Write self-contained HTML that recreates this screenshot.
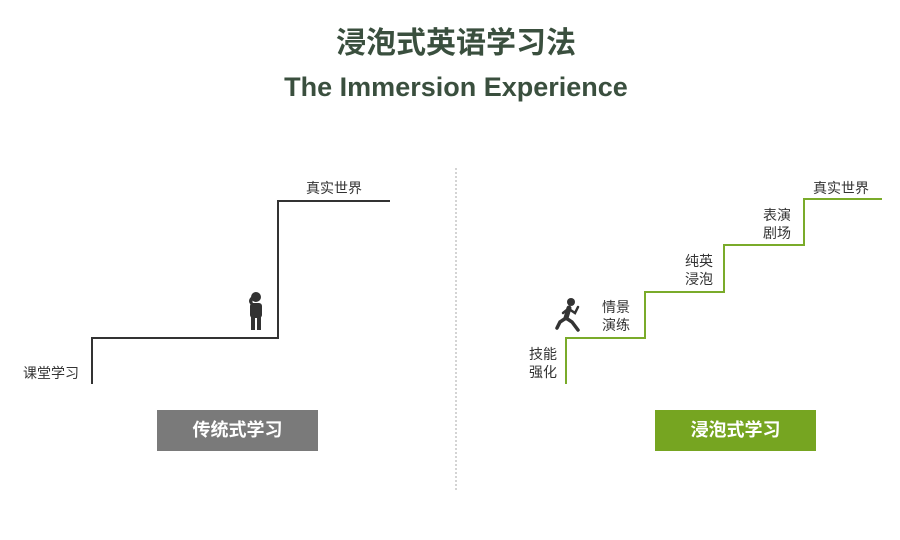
<!DOCTYPE html>
<html><head><meta charset="utf-8"><style>
body{margin:0;width:900px;height:540px;background:#fff;position:relative;overflow:hidden;font-family:"Liberation Sans","Noto Sans CJK SC",sans-serif}
.t{position:absolute;white-space:nowrap}
</style></head><body>
<div class="t" style="left:0;width:912px;text-align:center;top:24px;font-size:30px;font-weight:bold;color:#3a4f3e;line-height:40px">浸泡式英语学习法</div>
<div class="t" style="left:0;width:912px;text-align:center;top:70px;font-size:27px;font-weight:bold;color:#3a4f3e;line-height:34px">The Immersion Experience</div>
<svg width="900" height="540" style="position:absolute;left:0;top:0">
<line x1="456" y1="168" x2="456" y2="490" stroke="#aaa" stroke-width="1" stroke-dasharray="2,2"/>
<polyline points="92,384 92,338 278,338 278,201 390,201" fill="none" stroke="#333" stroke-width="2"/>
<polyline points="566,384 566,338 645,338 645,292 724,292 724,245 804,245 804,199 882,199" fill="none" stroke="#7aab2a" stroke-width="2"/>
<g fill="#333">
<circle cx="256" cy="297" r="5"/>
<rect x="250" y="303" width="12" height="15" rx="3"/>
<rect x="251" y="314" width="4" height="16"/>
<rect x="257" y="314" width="4" height="16"/>
<path d="M251 297 q-4 4 0 8 l3 0 q-3-4 0-7z"/>
</g>
<g fill="#333" stroke="#333" stroke-linecap="round">
<circle cx="571" cy="302" r="4" stroke="none"/>
<line x1="569" y1="308" x2="566" y2="318" stroke-width="5"/>
<polyline points="566,318 560,322 557,328" fill="none" stroke-width="3.5"/>
<polyline points="566,318 572,322 578,330" fill="none" stroke-width="3.5"/>
<polyline points="569,309 575,313 578,307" fill="none" stroke-width="2.5"/>
<polyline points="568,309 563,313" fill="none" stroke-width="2.5"/>
</g>
</svg>
<div class="t" style="left:306px;top:178px;font-size:14px;color:#333">真实世界</div>
<div class="t" style="left:23px;top:363px;font-size:14px;color:#333">课堂学习</div>
<div class="t" style="left:813px;top:178px;font-size:14px;color:#333">真实世界</div>
<div class="t" style="left:763px;top:206px;font-size:14px;color:#333;line-height:18px">表演<br>剧场</div>
<div class="t" style="left:685px;top:252px;font-size:14px;color:#333;line-height:18px">纯英<br>浸泡</div>
<div class="t" style="left:602px;top:298px;font-size:14px;color:#333;line-height:18px">情景<br>演练</div>
<div class="t" style="left:529px;top:345px;font-size:14px;color:#333;line-height:18px">技能<br>强化</div>
<div class="t" style="left:157px;top:410px;width:161px;height:41px;background:#7a7a7a;color:#fff;font-size:18px;font-weight:bold;text-align:center;line-height:41px">传统式学习</div>
<div class="t" style="left:655px;top:410px;width:161px;height:41px;background:#76a521;color:#fff;font-size:18px;font-weight:bold;text-align:center;line-height:41px">浸泡式学习</div>
</body></html>
